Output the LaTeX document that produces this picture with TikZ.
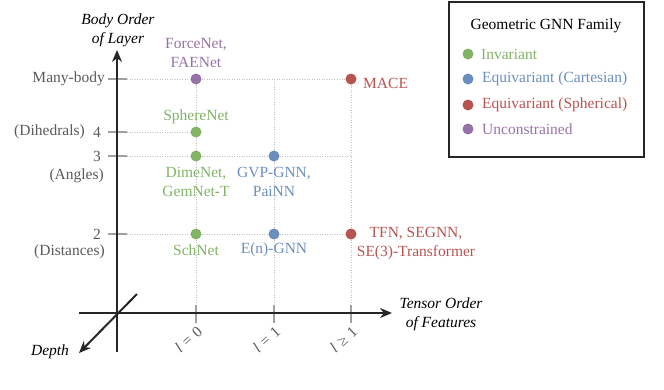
\documentclass[tikz,border=0pt]{standalone}
\usepackage{fontspec}
\setmainfont{Liberation Serif}
\usetikzlibrary{arrows.meta}
\definecolor{cgreen}{HTML}{82B366}
\definecolor{cblue}{HTML}{6C8EBF}
\definecolor{cred}{HTML}{B85450}
\definecolor{cpurple}{HTML}{9673A6}
\definecolor{tickgray}{HTML}{A0A0A0}
\definecolor{gridgray}{HTML}{C0C0C0}
\definecolor{labgray}{HTML}{5A5A5A}
\newcommand{\basefont}{\fontsize{15.5}{19}\selectfont}
\tikzset{
  dot/.style={circle,fill=#1,draw=none,inner sep=0pt,minimum size=11pt},
  gridline/.style={draw=gridgray,line width=0.9pt,dash pattern=on 1pt off 1.5pt},
  axis/.style={draw=black!85,line width=2pt},
  axisarrow/.style={axis,-{Stealth[length=12pt,width=10pt]}},
  tick/.style={draw=tickgray,line width=1.6pt},
  lab/.style={text=labgray,inner sep=0pt},
  ticklab/.style={lab,anchor=east,rotate=42},
  model/.style={text=#1,align=center,inner sep=0pt},
  axlabel/.style={font=\basefont\itshape,align=center,inner sep=0pt},
  legtext/.style={text=#1,anchor=west,inner sep=0pt},
}
\begin{document}
\begin{tikzpicture}[x=1pt,y=-1pt,font=\basefont]
\useasboundingbox (0,0) rectangle (664,389);
% coordinates
\coordinate (y4) at (127,132);
\coordinate (ymb) at (127,79);
\coordinate (y3) at (127,156);
\coordinate (y2) at (127,234);
\coordinate (x0) at (196,305);
\coordinate (x1) at (274,305);
\coordinate (x2) at (351,305);
\coordinate (g1top) at (274,79);
% dots
\node[dot=cpurple] (pf) at (196,79) {};
\node[dot=cgreen] (ps) at (196,132) {};
\node[dot=cgreen] (pd) at (196,156) {};
\node[dot=cblue] (pg) at (274,156) {};
\node[dot=cred] (pm) at (351,79) {};
\node[dot=cgreen] (pn) at (196,234) {};
\node[dot=cblue] (pe) at (274,234) {};
\node[dot=cred] (pt) at (351,234) {};
% grid
\draw[gridline] (ymb) -- (pf.west);
\draw[gridline] (pf.east) -- (pm.west);
\draw[gridline] (y4) -- (ps.west);
\draw[gridline] (y3) -- (pd.west);
\draw[gridline] (pd.east) -- (pg.west);
\draw[gridline] (pg.east) -- (351,156);
\draw[gridline] (y2) -- (pn.west);
\draw[gridline] (pn.east) -- (pe.west);
\draw[gridline] (pe.east) -- (pt.west);
\draw[gridline] (pf.south) -- (ps.north);
\draw[gridline] (ps.south) -- (pd.north);
\draw[gridline] (pd.south) -- (pn.north);
\draw[gridline] (pn.south) -- (x0);
\draw[gridline] (g1top) -- (pg.north);
\draw[gridline] (pg.south) -- (pe.north);
\draw[gridline] (pe.south) -- (x1);
\draw[gridline] (pm.south) -- (pt.north);
\draw[gridline] (pt.south) -- (x2);
% ticks
\draw[tick] (108,79) -- (ymb);
\draw[tick] (108,132) -- (y4);
\draw[tick] (108,156) -- (y3);
\draw[tick] (108,234) -- (y2);
\draw[tick] (x0) -- (196,323);
\draw[tick] (x1) -- (274,323);
\draw[tick] (x2) -- (351,323);
% axes
\coordinate (yb) at (117,352);
\coordinate (yt) at (117,50);
\coordinate (xl) at (79,313);
\coordinate (xr) at (392,313);
\coordinate (ds) at (137,294);
\coordinate (de) at (79,353);
\draw[axisarrow] (yb) -- (yt);
\draw[axisarrow] (xl) -- (xr);
\draw[axisarrow] (ds) -- (de);
% axis labels
\node[axlabel] (ly) at (118,30) {Body Order\\of Layer};
\node[axlabel] (lx) at (441,314) {Tensor Order\\of Features};
\node[axlabel] (ld) at (50,352) {Depth};
% x tick labels
\node[ticklab] (tx0) at (200,329) {\textit{l}\hspace{5pt}=\hspace{5pt}0};
\node[ticklab] (tx1) at (278,329) {\textit{l}\hspace{5pt}=\hspace{5pt}1};
\node[ticklab] (tx2) at (355,329) {\textit{l}\hspace{5pt}≥\hspace{5pt}1};
% y tick labels
\node[lab,anchor=east] (tmb) at (105,79) {Many-body};
\node[lab,anchor=east] (t4) at (101,132) {4};
\node[lab,anchor=east] (t4b) at (85,132) {(Dihedrals)};
\node[lab,anchor=east] (t3) at (101,156) {3};
\node[lab,anchor=east] (t3b) at (104,176) {(Angles)};
\node[lab,anchor=east] (t2) at (101,234) {2};
\node[lab,anchor=east] (t2b) at (105,252) {(Distances)};
% model labels
\node[model=cpurple] (mf) at (196,53) {ForceNet,\\FAENet};
\node[model=cgreen] (ms) at (196,117) {SphereNet};
\node[model=cgreen] (md) at (196,182) {DimeNet,\\GemNet-T};
\node[model=cblue] (mg) at (274,182) {GVP-GNN,\\PaiNN};
\node[model=cred,anchor=west] (mm) at (363,83) {MACE};
\node[model=cgreen] (mn) at (196,250) {SchNet};
\node[model=cblue] (me) at (274,250) {E(n)-GNN};
\node[model=cred] (mt) at (416,244) {TFN, SEGNN,\\SE(3)-Transformer};
% legend
\node[draw=black!85,line width=1.4pt,minimum width=195pt,minimum height=155pt,inner sep=0pt] (leg) at (546.5,79.5) {};
\node[inner sep=0pt] (legt) at (546,26) {Geometric GNN Family};
\node[dot=cgreen] (l1) at (468,54) {};
\node[dot=cblue] (l2) at (468,79) {};
\node[dot=cred] (l3) at (468,105) {};
\node[dot=cpurple] (l4) at (468,129) {};
\node[legtext=cgreen] (l1t) at (481,54) {Invariant};
\node[legtext=cblue] (l2t) at (482,79) {Equivariant (Cartesian)};
\node[legtext=cred] (l3t) at (482,105) {Equivariant (Spherical)};
\node[legtext=cpurple] (l4t) at (482,129) {Unconstrained};
\end{tikzpicture}
\end{document}
